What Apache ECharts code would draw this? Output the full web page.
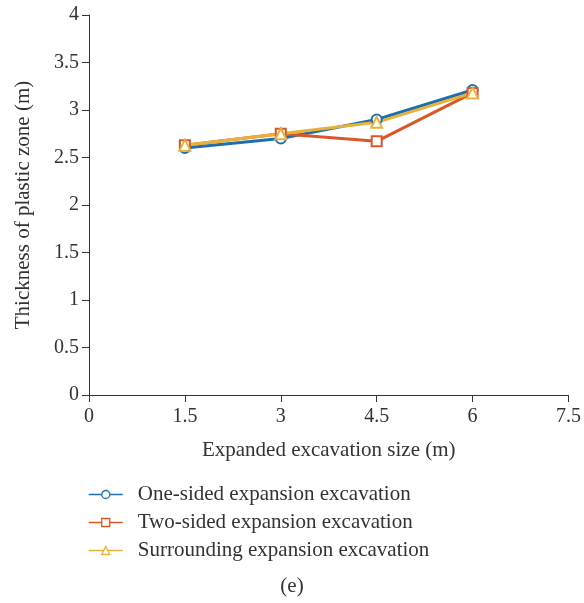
<!DOCTYPE html>
<html>
<head>
<meta charset="utf-8">
<script src="https://cdn.jsdelivr.net/npm/echarts@6/dist/echarts.min.js"></script>
<style>
  html, body { margin: 0; padding: 0; background: #fff; }
</style>
</head>
<body>
<div id="box" style="width:584px;height:603px;"></div>
<script>
// values
const sizes = [1.5, 3, 4.5, 6];
const oneSided = [2.6, 2.7, 2.9, 3.21];
const twoSided = [2.63, 2.75, 2.67, 3.18];
const surrounding = [2.63, 2.75, 2.87, 3.18];
const seriesNames = [
  "One-sided expansion excavation",
  "Two-sided expansion excavation",
  "Surrounding expansion excavation"
];

const font = "Liberation Serif";
const axisColor = "#333";

function pairs(vals) {
  return sizes.map((x, i) => [x, vals[i]]);
}

function lineSeries(name, vals, color, symbol) {
  return {
    name: name,
    type: "line",
    data: pairs(vals),
    symbol: symbol,
    symbolSize: symbol === "triangle" ? 11 : 10,
    lineStyle: { width: 3, color: color },
    itemStyle: { color: "#fff", borderColor: color, borderWidth: 2 },
    emphasis: { disabled: true },
    animation: false
  };
}

const myChart = echarts.init(document.getElementById("box"));
const option = {
  textStyle: { fontFamily: font },
  title: {
    text: "(e)",
    left: "center",
    top: 571,
    textStyle: { fontFamily: font, fontSize: 21, fontWeight: "normal", color: axisColor }
  },
  grid: { left: 89, right: 14, top: 15, bottom: 208 },
  legend: {
    orient: "vertical",
    left: 83,
    top: 479,
    itemGap: 7,
    itemWidth: 34,
    itemHeight: 10,
    lineStyle: { width: 1.5 },
    itemStyle: { borderWidth: 1.3 },
    textStyle: { fontFamily: font, fontSize: 21, color: axisColor, padding: [0, 0, 0, 10] },
    data: seriesNames
  },
  xAxis: {
    type: "value",
    min: 0,
    max: 7.5,
    interval: 1.5,
    name: "Expanded excavation size (m)",
    nameLocation: "middle",
    nameGap: 45,
    nameTextStyle: { fontFamily: font, fontSize: 21, color: axisColor },
    axisLine: { lineStyle: { color: axisColor, width: 1 } },
    axisTick: { show: true, length: 7, lineStyle: { color: axisColor } },
    axisLabel: { fontFamily: font, fontSize: 20, color: axisColor, margin: 12 },
    splitLine: { show: false }
  },
  yAxis: {
    type: "value",
    min: 0,
    max: 4,
    interval: 0.5,
    name: "Thickness of plastic zone (m)",
    nameLocation: "middle",
    nameGap: 55,
    nameTextStyle: { fontFamily: font, fontSize: 21, color: axisColor },
    axisLine: { show: true, lineStyle: { color: axisColor, width: 1 } },
    axisTick: { show: true, length: 7, lineStyle: { color: axisColor } },
    axisLabel: { fontFamily: font, fontSize: 20, color: axisColor, margin: 10 },
    splitLine: { show: false }
  },
  series: [
    lineSeries(seriesNames[0], oneSided, "#1f6fad", "circle"),
    lineSeries(seriesNames[1], twoSided, "#d9582b", "rect"),
    lineSeries(seriesNames[2], surrounding, "#e8b23a", "triangle")
  ]
};
myChart.setOption(option);
</script>
</body>
</html>
